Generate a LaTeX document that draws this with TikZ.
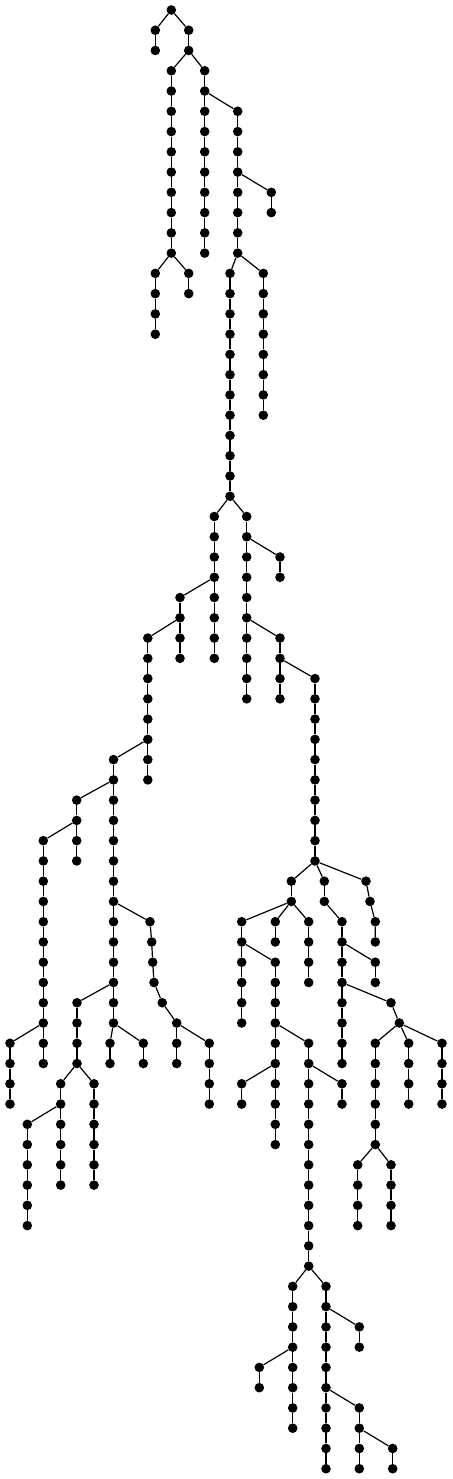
\documentclass[tikz,border=0pt]{standalone}
\usetikzlibrary{positioning}
\tikzset{
  dot/.style={circle,fill=black,draw=none,inner sep=0pt,minimum size=9.6pt},
  edge/.style={draw=black,line width=1.2pt}
}
\newcommand\chn[4]{%
  \foreach \lv in {#3,...,#4}{%
    \node[dot] (#1-\lv) at (#2,{10+20.26*\lv}) {};
    \ifnum\lv>#3\relax
      \pgfmathtruncatemacro\plv{\lv-1}%
      \draw[edge] (#1-\plv) -- (#1-\lv);
    \fi
  }%
}
\newcommand\mnode[3]{\node[dot] (#1) at (#2,{10+20.26*#3}) {};}
\begin{document}
\begin{tikzpicture}[x=1pt,y=-1pt]
\useasboundingbox (0,0) rectangle (452,1479);
% chains
\chn{r}{171.3}{0}{0}
\chn{a}{155.3}{1}{2}
\chn{b}{188.7}{1}{2}
\chn{d}{171.3}{3}{12}
\chn{dl}{155.3}{13}{16}
\chn{dr}{188.7}{13}{14}
\chn{e}{204.7}{3}{12}
\chn{f}{237.7}{5}{12}
\chn{g}{271.3}{9}{10}
\chn{h}{230}{13}{24}
\chn{i}{263.3}{13}{20}
\chn{j}{214.3}{25}{32}
\chn{k}{246.7}{25}{34}
\chn{kb}{280}{27}{28}
\chn{m}{180}{29}{32}
\chn{n}{147.8}{31}{38}
\chn{p}{280}{31}{34}
\chn{q}{315}{33}{42}
\chn{s}{113.5}{37}{50}
\chn{t}{76.7}{39}{42}
\chn{u}{43.3}{41}{52}
\chn{ub}{10}{51}{54}
\chn{sa}{110}{51}{52}
\chn{sb}{143.3}{51}{52}
\chn{v}{77}{49}{52}
\chn{va}{60.7}{53}{58}
\chn{vb}{27.3}{55}{60}
\chn{vc}{94}{53}{58}
% drifting chain o
\mnode{o-45}{150}{45}
\mnode{o-46}{151.7}{46}
\mnode{o-47}{152.7}{47}
\mnode{o-48}{154}{48}
\mnode{o-49}{162.3}{49}
\mnode{o-50}{176.7}{50}
\draw[edge] (o-45)--(o-46)--(o-47)--(o-48)--(o-49)--(o-50);
\chn{oa}{176.7}{51}{52}
\chn{ob}{209.3}{51}{54}
% right part
\chn{ww}{291.3}{43}{44}
\chn{xx}{324.3}{43}{44}
\mnode{yy-43}{366}{43}
\mnode{yy-44}{370}{44}
\mnode{yy-45}{375.3}{45}
\mnode{yy-46}{375.3}{46}
\draw[edge] (yy-43)--(yy-44)--(yy-45)--(yy-46);
\chn{xy}{342}{45}{52}
\chn{wa}{241.7}{45}{50}
\chn{wb}{275.3}{45}{46}
\chn{wc}{308.7}{45}{48}
\chn{z}{275.3}{47}{56}
\chn{za}{241.7}{53}{54}
\chn{zb}{308.7}{51}{62}
\chn{zc}{342}{53}{54}
\chn{ca}{375.3}{47}{48}
\mnode{cb-49}{391}{49}
\mnode{cb-50}{399.3}{50}
\draw[edge] (cb-49)--(cb-50);
\chn{cc}{375.3}{51}{56}
\chn{cd}{408.7}{51}{54}
\chn{ce}{442}{51}{54}
\chn{cf}{357.7}{57}{60}
\chn{cg}{391}{57}{60}
\chn{ya}{292.7}{63}{70}
\chn{yb}{326}{63}{72}
\chn{yc}{259.3}{67}{68}
\chn{yd}{359.3}{65}{66}
\chn{ye}{359.3}{69}{72}
\chn{yf}{392.7}{71}{72}
% branch edges
\foreach \pa/\ch in {r-0/a-1, r-0/b-1, b-2/d-3, b-2/e-3, e-4/f-5, f-8/g-9,
  d-12/dl-13, d-12/dr-13, f-12/h-13, f-12/i-13, h-24/j-25, h-24/k-25,
  k-26/kb-27, j-28/m-29, m-30/n-31, k-30/p-31, p-32/q-33, n-36/s-37,
  s-38/t-39, t-40/u-41, u-50/ub-51, s-44/o-45, s-48/v-49, s-50/sa-51,
  s-50/sb-51, v-52/va-53, v-52/vc-53, va-54/vb-55, o-50/oa-51, o-50/ob-51,
  q-42/ww-43, q-42/xx-43, q-42/yy-43, ww-44/wa-45, ww-44/wb-45, ww-44/wc-45,
  xx-44/xy-45, wa-46/z-47, z-50/zb-51, z-52/za-53, zb-52/zc-53, xy-46/ca-47,
  xy-48/cb-49, cb-50/cc-51, cb-50/cd-51, cb-50/ce-51, cc-56/cf-57, cc-56/cg-57,
  zb-62/ya-63, zb-62/yb-63, ya-66/yc-67, yb-64/yd-65, yb-68/ye-69, ye-70/yf-71}
  {\draw[edge] (\pa) -- (\ch);}
\end{tikzpicture}
\end{document}
